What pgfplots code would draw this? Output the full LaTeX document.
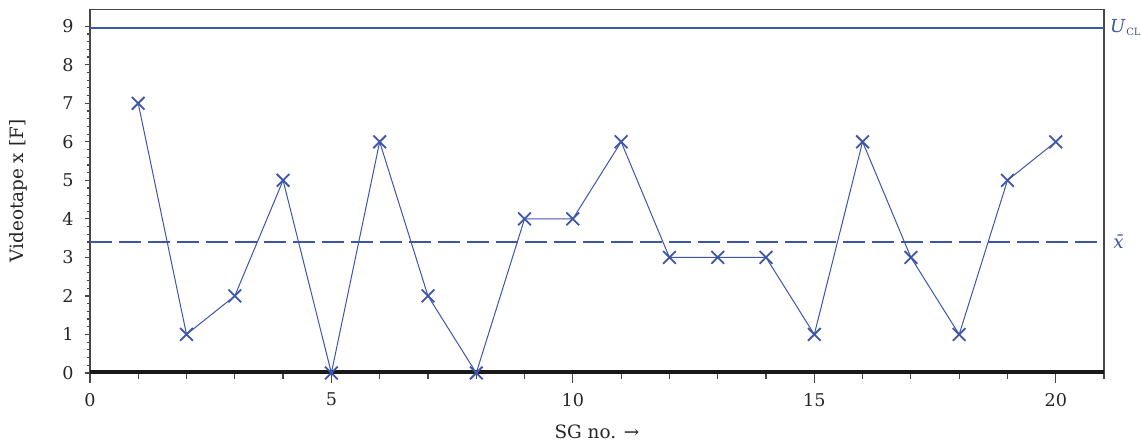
\documentclass[border=0pt]{standalone}
\usepackage{fontspec}
\setmainfont{DejaVu Serif}
\usepackage{pgfplots}
\pgfplotsset{compat=1.18}
\definecolor{cblue}{RGB}{62,86,168}
\definecolor{axgray}{RGB}{70,70,70}
\pgfplotsset{
  common/.style={
    scale only axis,
    width=507.5pt, height=182pt,
    xmin=0, xmax=21, ymin=0, ymax=9.44,
    tick align=outside,
    /pgf/number format/assume math mode=true,
    tick label style={font=\fontsize{8.8}{10}\selectfont, text=black!85},
    every tick/.style={axgray, line width=0.6pt},
    clip=false,
  }
}
\begin{document}
\begin{tikzpicture}
\begin{axis}[
  common,
  xtick={0,5,10,15,20},
  minor xtick={1,2,3,4,6,7,8,9,11,12,13,14,16,17,18,19,21},
  ytick=\empty,
  major tick length=5pt, minor tick length=3pt,
  axis x line*=bottom, axis y line*=left,
  axis line style={axgray, line width=0.6pt},
  xlabel={SG no. →}, ylabel={Videotape x [F]},
  label style={font=\fontsize{9.2}{10}\selectfont, text=black!85},
  xlabel style={at={(axis description cs:0.5,-0.162)}, anchor=center},
  ylabel style={at={(axis description cs:-0.070,0.5)}, anchor=center},
  xticklabel style={yshift=-1.5pt},
]
\coordinate (ll) at (rel axis cs:0,0);
\coordinate (ur) at (rel axis cs:1,1);
\draw[axgray, line width=0.6pt] (rel axis cs:0,1) -- (rel axis cs:1,1) -- (rel axis cs:1,0);
\addplot[black!90, line width=2pt, forget plot] coordinates {(0,0.03) (21,0.03)};
\addplot[cblue, line width=1pt, forget plot] coordinates {(0,8.96) (21,8.96)};
\addplot[cblue, line width=1.2pt, dash pattern=on 11pt off 3.5pt, forget plot] coordinates {(0,3.4) (21,3.4)};
\addplot[cblue, line width=0.5pt, mark=x, mark size=4.5pt, mark options={line width=0.9pt}] coordinates {
(1,7) (2,1) (3,2) (4,5) (5,0) (6,6) (7,2) (8,0) (9,4) (10,4)
(11,6) (12,3) (13,3) (14,3) (15,1) (16,6) (17,3) (18,1) (19,5) (20,6)};
\node[anchor=west, text=cblue, inner sep=0pt, xshift=2.8pt, font=\fontsize{9}{10}\selectfont] at (axis cs:21,8.96) {\textit{U}\kern0.3pt\raisebox{-1.6pt}{\fontsize{5}{6}\selectfont CL}};
\node[anchor=west, text=cblue, inner sep=0pt, xshift=4.5pt, font=\fontsize{9.2}{10}\selectfont] at (axis cs:21,3.4) {\textit{\=x}};
\end{axis}
\begin{axis}[
  common,
  xtick=\empty,
  ytick={0,1,...,9},
  minor y tick num=4,
  major tick length=2.6pt, minor tick length=1.7pt,
  axis x line=none, axis y line*=left,
  axis line style={draw=none},
  yticklabel style={xshift=-2pt},
]
\end{axis}
\pgfresetboundingbox
\path (ll) ++(-45pt,-35.5pt) coordinate (a);
\path (ur) ++(18.5pt,4.65pt) coordinate (b);
\useasboundingbox (a) rectangle (b);
\end{tikzpicture}
\end{document}
